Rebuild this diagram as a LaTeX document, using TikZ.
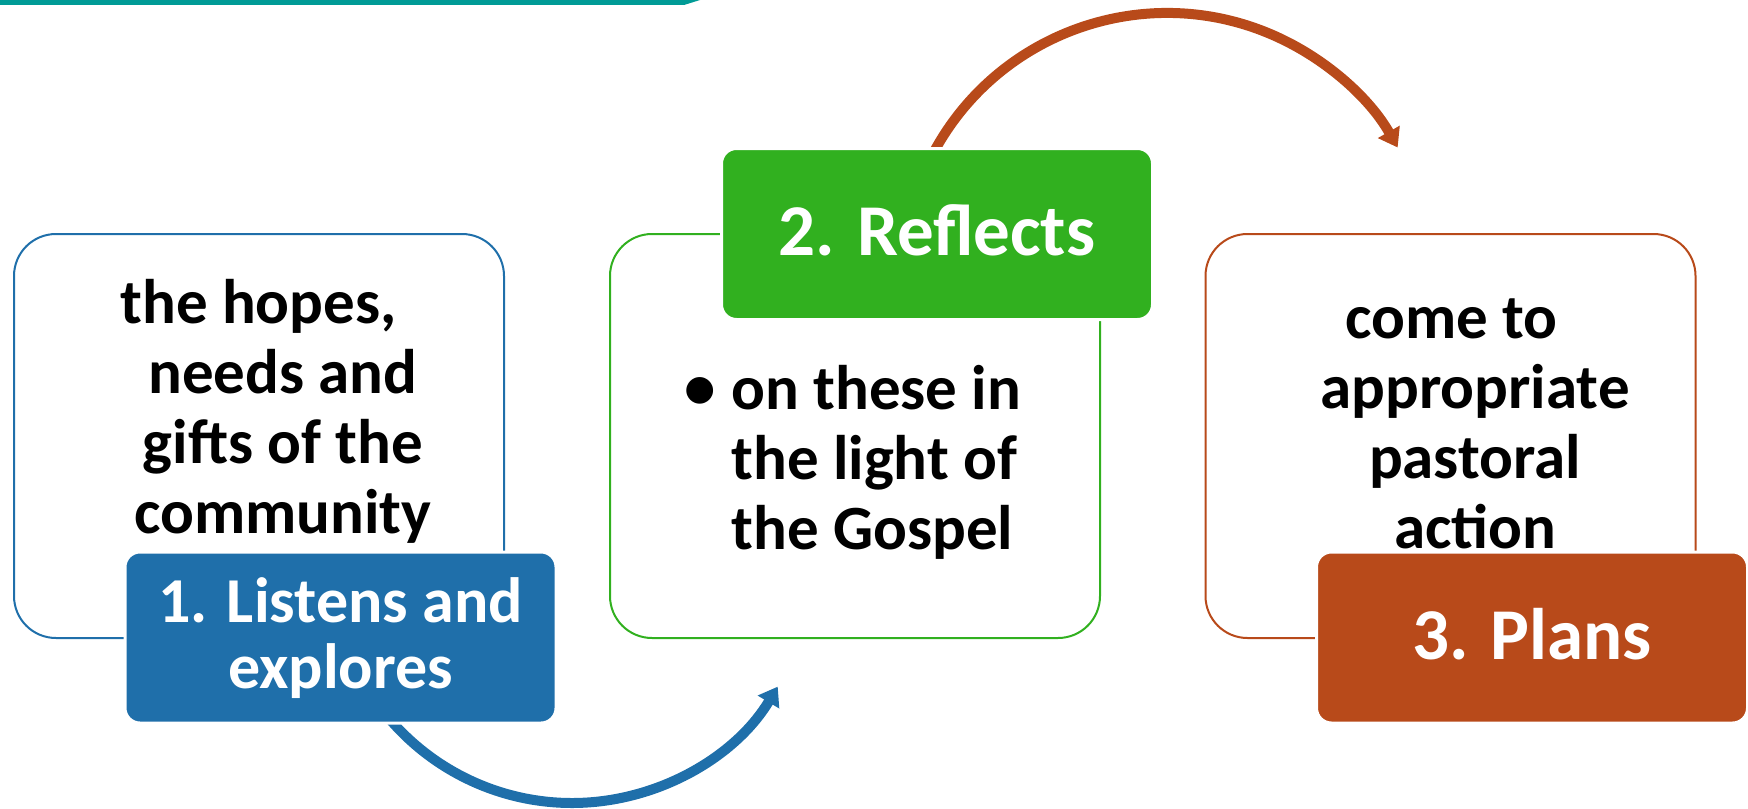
\documentclass[tikz,border=0pt]{standalone}
\usepackage{fontspec}
\setmainfont{Carlito}
\usetikzlibrary{arrows.meta}
\definecolor{cblue}{HTML}{1F6FAA}
\definecolor{cgreen}{HTML}{31B01F}
\definecolor{corange}{HTML}{B84A1A}
\definecolor{cteal}{HTML}{009B96}
\begin{document}
\begin{tikzpicture}[x=0.5pt,y=0.5pt,
  outerbox/.style={draw, line width=1pt, rounded corners=21pt, minimum width=245pt, minimum height=202pt, inner sep=0pt},
  labelbox/.style={draw=white, line width=1.5pt, rounded corners=7.5pt, minimum width=215.5pt, minimum height=85.5pt, inner sep=0pt},
  labeltext/.style={inner sep=0pt, text=white, align=center, anchor=base, font=\bfseries\fontsize{36.5}{40}\selectfont},
  bodytext/.style={inner sep=0pt, align=center, anchor=base, font=\bfseries\fontsize{31.5}{35}\selectfont},
  arrowline/.style={line width=5pt, -{Triangle[length=9pt,width=12pt]}}
]
\useasboundingbox (0,0) rectangle (1748,-808);
% teal bar at top
\fill[cteal] (0,0) -- (700,0) -- (684,-5) -- (0,-5) -- cycle;

% outer boxes
\node[outerbox, draw=cblue] (box1) at (259,-436) {};
\node[outerbox, draw=cgreen] (box2) at (855,-436) {};
\node[outerbox, draw=corange] (box3) at (1450.5,-436) {};

% body texts (anchor=base = baseline of the last line)
\node[bodytext] (txt1) at (283,-533) {the hopes,\makebox[24.5pt]{}\\needs and\\gifts of the\\community};
\node[bodytext, align=left, anchor=base west] (txt2) at (731,-549) {on these in\\the light of\\the Gospel};
\node[bodytext] (bul2) at (700,-408) {•};
\node[bodytext] (txt3) at (1475,-548) {come to\makebox[23.5pt]{}\\appropriate\\pastoral\\action};

% arcs
\coordinate (cb) at (572,-563);
\coordinate (co) at (1167,-278);
\draw[arrowline, cblue] ([shift={(215:120pt)}]cb) arc[start angle=215, end angle=329, radius=120pt];
\draw[arrowline, corange] ([shift={(155:132.5pt)}]co) arc[start angle=155, end angle=29.5, radius=132.5pt];

% label boxes
\node[labelbox, fill=cblue] (lbl1) at (340.5,-637.5) {};
\node[labelbox, fill=cgreen] (lbl2) at (937,-234) {};
\node[labelbox, fill=corange] (lbl3) at (1532,-637.5) {};

\node[labeltext, font=\bfseries\fontsize{32}{33}\selectfont] (lt1) at (340.5,-688) {1. Listens and\\explores};
\node[labeltext] (lt2) at ([yshift=-10.5pt]lbl2.center) {2. Reflects};
\node[labeltext] (lt3) at ([yshift=-10.75pt]lbl3.center) {3. Plans};
\end{tikzpicture}
\end{document}
